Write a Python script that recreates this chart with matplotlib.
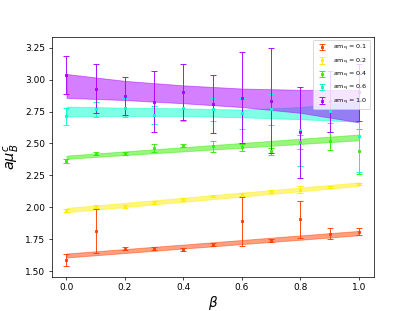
import matplotlib
matplotlib.use('Agg')
import matplotlib.pyplot as plt

# beta values of the measurements
beta = [0.0, 0.1, 0.2, 0.3, 0.4, 0.5, 0.6, 0.7, 0.8, 0.9, 1.0]

mq_labels = ['0.1', '0.2', '0.4', '0.6', '1.0']
colors = ['#ff4000', '#ffee00', '#33ee00', '#00ffcc', '#aa00ff']

# a*mu_B^c data for each am_q
mu_01 = [1.586, 1.815, 1.677, 1.674, 1.668, 1.706, 1.890, 1.737, 1.905, 1.794, 1.810]
err_01 = [0.045, 0.175, 0.013, 0.012, 0.012, 0.012, 0.190, 0.012, 0.145, 0.045, 0.025]

mu_02 = [1.977, 2.005, 2.005, 2.037, 2.060, 2.090, 2.099, 2.125, 2.138, 2.159, 2.182]
err_02 = [0.012, 0.012, 0.010, 0.010, 0.010, 0.010, 0.012, 0.010, 0.025, 0.010, 0.010]

mu_04 = [2.362, 2.420, 2.425, 2.466, 2.482, 2.477, 2.469, 2.438, 2.510, 2.516, 2.438]
err_04 = [0.015, 0.012, 0.012, 0.030, 0.012, 0.045, 0.030, 0.030, 0.055, 0.070, 0.175]

mu_06 = [2.714, 2.766, 2.779, 2.726, 2.779, 2.766, 2.737, 2.766, 2.607, 2.752, 2.557]
err_06 = [0.066, 0.058, 0.075, 0.070, 0.100, 0.090, 0.120, 0.120, 0.285, 0.090, 0.280]

mu_10 = [3.037, 2.930, 2.870, 2.826, 2.900, 2.810, 2.857, 2.836, 2.586, 2.830, 2.900]
err_10 = [0.150, 0.190, 0.150, 0.240, 0.220, 0.225, 0.357, 0.410, 0.360, 0.240, 0.225]

# fit bands (lower / upper edge)
band_x = [0.0, 0.2, 0.4, 0.6, 0.8, 1.0]
lo_01 = [1.607, 1.642, 1.677, 1.712, 1.746, 1.781]
hi_01 = [1.638, 1.673, 1.708, 1.744, 1.780, 1.815]
lo_02 = [1.961, 2.002, 2.043, 2.084, 2.125, 2.167]
hi_02 = [1.995, 2.035, 2.075, 2.115, 2.155, 2.195]
lo_04 = [2.380, 2.409, 2.438, 2.467, 2.496, 2.525]
hi_04 = [2.405, 2.438, 2.471, 2.504, 2.537, 2.570]
lo_06 = [2.711, 2.715, 2.715, 2.705, 2.690, 2.670]
hi_06 = [2.789, 2.780, 2.775, 2.765, 2.785, 2.828]
lo_10 = [2.857, 2.840, 2.815, 2.785, 2.740, 2.666]
hi_10 = [3.044, 2.990, 2.955, 2.930, 2.920, 2.920]

values = [mu_01, mu_02, mu_04, mu_06, mu_10]
errors = [err_01, err_02, err_04, err_06, err_10]
lows = [lo_01, lo_02, lo_04, lo_06, lo_10]
highs = [hi_01, hi_02, hi_04, hi_06, hi_10]

fig, ax = plt.subplots(figsize=(415 / 65, 311 / 65), dpi=65)

for i in range(len(mq_labels)):
    c = colors[i]
    ax.errorbar(beta, values[i], yerr=errors[i], fmt='s', color=c, ms=3,
                capsize=3, elinewidth=1, label=r'$\mathrm{am_q}$ = ' + mq_labels[i])
    ax.fill_between(band_x, lows[i], highs[i], color=c, alpha=0.5, lw=1)

ax.set_xlabel(r'$\beta$', fontsize=15, labelpad=2)
ax.set_ylabel(r'$a\mu_B^c$', fontsize=16)
ax.legend(loc='upper right', fontsize=7)

fig.savefig('out.png', dpi=65)
